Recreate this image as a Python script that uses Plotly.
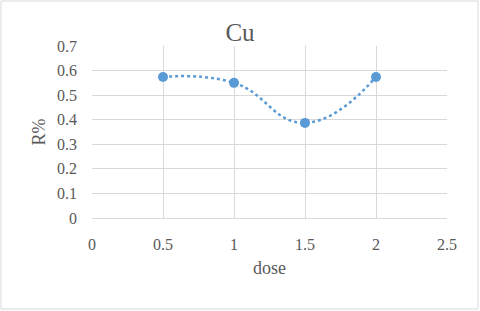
import plotly.graph_objects as go

dose = [0.5, 1.0, 1.5, 2.0]
r_pct = [0.574, 0.550, 0.387, 0.574]
x_ticks = [0, 0.5, 1, 1.5, 2, 2.5]
x_tick_labels = ["0", "0.5", "1", "1.5", "2", "2.5"]
y_ticks = [0, 0.1, 0.2, 0.3, 0.4, 0.5, 0.6, 0.7]
y_tick_labels = ["0", "0.1", "0.2", "0.3", "0.4", "0.5", "0.6", "0.7"]

blue = "#5b9bd5"
txt = "#595959"
font_family = "Liberation Serif"

fig = go.Figure()
fig.add_trace(go.Scatter(
    x=dose, y=r_pct, mode="lines+markers",
    line=dict(color=blue, width=2.5, dash="dot", shape="spline", smoothing=1.3),
    marker=dict(color=blue, size=10),
    showlegend=False,
))

L, R, T, B = 92, 33, 46, 93
W, H = 480, 311
pw, ph = W - L - R, H - T - B

tickfont = dict(family=font_family, color=txt, size=16)

fig.update_layout(
    width=W, height=H,
    margin=dict(l=L, r=R, t=T, b=B),
    paper_bgcolor="white", plot_bgcolor="white",
    font=dict(family=font_family, color=txt, size=16),
    title=dict(text="Cu", x=0.5, xanchor="center", y=1 - 32 / H, yanchor="middle",
               font=dict(size=25, color=txt, family=font_family)),
    xaxis=dict(range=[0, 2.5], tickvals=x_ticks, ticktext=x_tick_labels,
               tickfont=tickfont,
               showgrid=True, gridcolor="#d9d9d9", gridwidth=1,
               zeroline=False, showline=True, linecolor="#d9d9d9", linewidth=1,
               ticks="", ticklabelstandoff=12,
               title=dict(text="dose", font=dict(size=18, color=txt, family=font_family), standoff=9)),
    yaxis=dict(range=[0, 0.7], tickvals=y_ticks, ticktext=y_tick_labels,
               tickfont=tickfont,
               showgrid=True, gridcolor="#d9d9d9", gridwidth=1,
               zeroline=False, showline=False,
               ticks="", ticklabelstandoff=14,
               title=dict(text="R%", font=dict(size=18, color=txt, family=font_family), standoff=6)),
)

fig.add_shape(type="rect", xref="paper", yref="paper",
              x0=(1 - L) / pw, x1=(478 - L) / pw,
              y0=(T + ph - 309) / ph, y1=(T + ph - 1) / ph,
              line=dict(color="#d9d9d9", width=1), layer="below")

fig.write_html("out.html", config={"displayModeBar": False},
               post_script="document.body.style.margin='0';")
